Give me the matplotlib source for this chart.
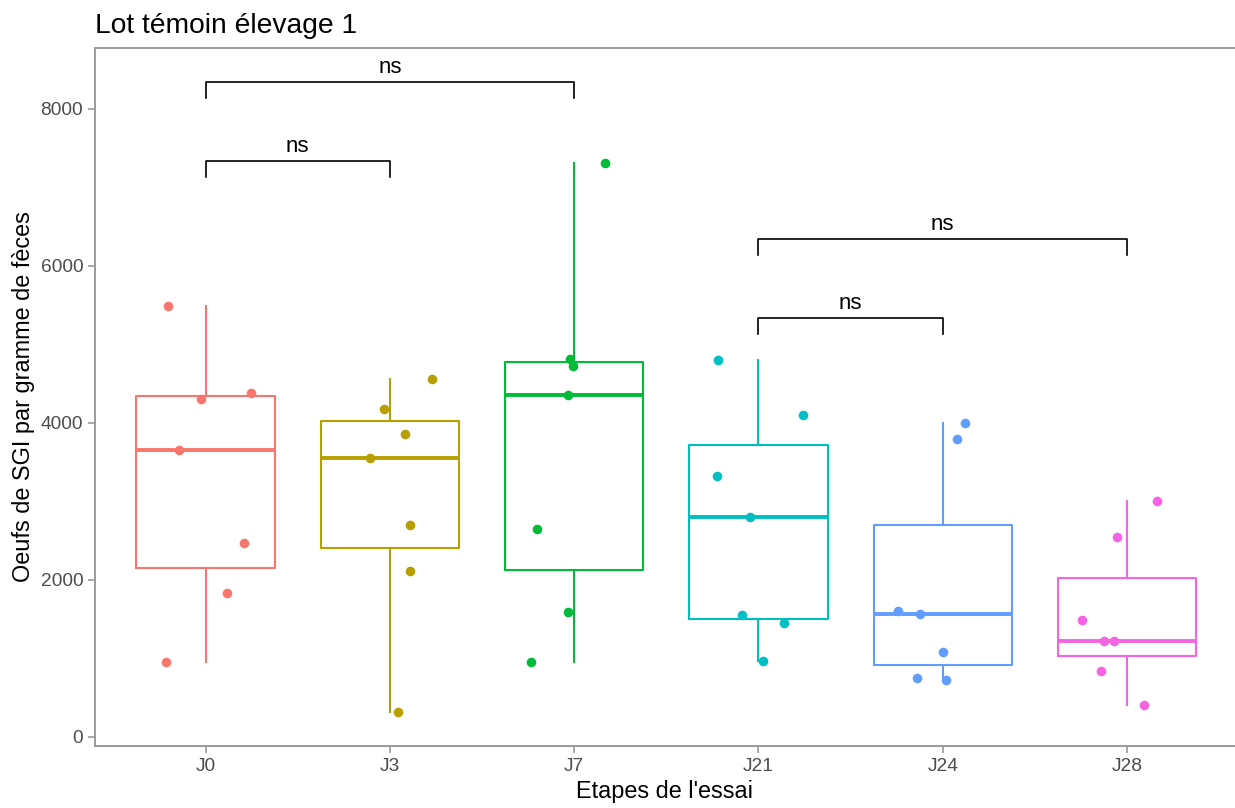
import matplotlib.pyplot as plt

plt.rcParams["font.family"] = ["Liberation Sans", "DejaVu Sans"]

groups = ["J0", "J3", "J7", "J21", "J24", "J28"]

colors = ["#F8766D", "#B79F00", "#00BA38", "#00BFC4", "#619CFF", "#F564E3"]

# eggs per gram, one list per stage
j0 = [5490, 4385, 4305, 3656, 2471, 1834, 950]
j3 = [4554, 4182, 3860, 3558, 2697, 2110, 320]
j7 = [7308, 4819, 4730, 4361, 2654, 1592, 959]
j21 = [4803, 4102, 3325, 2803, 1550, 1448, 968]
j24 = [4000, 3796, 1601, 1563, 1083, 755, 720]
j28 = [3006, 2552, 1490, 1217, 1223, 837, 408]

values = [j0, j3, j7, j21, j24, j28]

# horizontal jitter (same order as the values)
jitter = [
    [-0.206, 0.244, -0.027, -0.146, 0.211, 0.114, -0.217],
    [0.228, -0.033, 0.080, -0.110, 0.107, 0.107, 0.045],
    [0.168, -0.022, -0.005, -0.031, -0.204, -0.033, -0.232],
    [-0.217, 0.242, -0.226, -0.045, -0.087, 0.139, 0.025],
    [0.121, 0.078, -0.242, -0.123, 0.0, -0.139, 0.018],
    [0.165, -0.054, -0.246, -0.125, -0.073, -0.141, 0.092],
]

# significance brackets: (from, to, height, label)
comparisons = [
    ("J0", "J7", 8350, "ns"),
    ("J0", "J3", 7340, "ns"),
    ("J21", "J28", 6340, "ns"),
    ("J21", "J24", 5340, "ns"),
]

fig = plt.figure(figsize=(12.35, 8.08), dpi=100)

ax = fig.add_axes([95 / 1235, 62 / 808, 1 - 95 / 1235, 698 / 808])

positions = list(range(1, len(groups) + 1))

bp = ax.boxplot(
    values,
    positions=positions,
    widths=0.75,
    showcaps=False,
    showfliers=False,
    patch_artist=False,
)

for i, c in enumerate(colors):

    bp["boxes"][i].set(color=c, linewidth=1.5)

    bp["medians"][i].set(color=c, linewidth=2.8)

    for w in bp["whiskers"][2 * i:2 * i + 2]:
        w.set(color=c, linewidth=1.5)

    x = [positions[i] + d for d in jitter[i]]

    ax.scatter(
        x,
        values[i],
        s=48,
        color=c,
        zorder=3,
        linewidths=0
    )

# brackets
tip = 205

for a, b, h, lab in comparisons:

    x1 = positions[groups.index(a)]
    x2 = positions[groups.index(b)]

    ax.plot(
        [x1, x1, x2, x2],
        [h - tip, h, h, h - tip],
        color="black",
        linewidth=1.2
    )

    ax.text(
        (x1 + x2) / 2,
        h + 50,
        lab,
        ha="center",
        va="bottom",
        fontsize=16
    )

ax.set_xlim(0.4, 6 + 108 / 184.4)
ax.set_ylim(-115, 8777)

ax.set_xticks(positions)
ax.set_xticklabels(groups)
ax.set_yticks([0, 2000, 4000, 6000, 8000])

ax.tick_params(
    colors="#9a9a9a",
    labelcolor="#4d4d4d",
    labelsize=13.8,
    length=5,
    width=1.2
)

for side in ["left", "bottom", "top"]:
    ax.spines[side].set_color("#9a9a9a")
    ax.spines[side].set_linewidth(1.4)

ax.spines["right"].set_visible(False)

ax.set_xlabel("Etapes de l'essai", fontsize=16.9, labelpad=4)
ax.set_ylabel("Oeufs de SGI par gramme de fèces", fontsize=16.9, labelpad=4)

fig.text(
    95 / 1235,
    1 - 33 / 808,
    "Lot témoin élevage 1",
    fontsize=20.3,
    ha="left",
    va="baseline"
)

plt.savefig("out.png", dpi=100)

plt.close()
